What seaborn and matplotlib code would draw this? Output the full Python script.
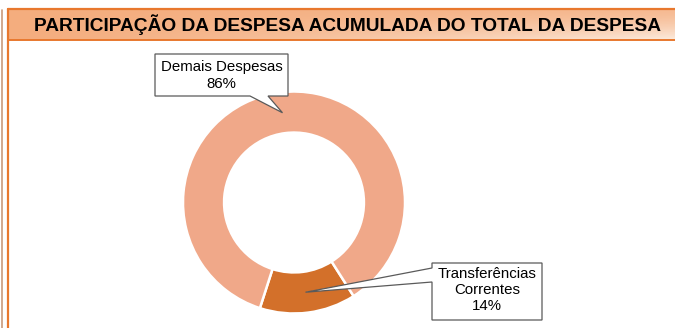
import textwrap
import numpy as np
import matplotlib
matplotlib.use("Agg")
import matplotlib.pyplot as plt
import seaborn as sns
from matplotlib.colors import to_rgb
from matplotlib.patches import Polygon

# dados
categorias = ["Transferências Correntes", "Demais Despesas"]
percentuais = [14, 86]
cores = ["#D3702A", "#F0A889"]
titulo = "PARTICIPAÇÃO DA DESPESA ACUMULADA DO TOTAL DA DESPESA"

sns.set_style("white")
plt.rcParams["font.family"] = ["Liberation Sans", "DejaVu Sans"]

W, H = 675, 328
fig = plt.figure(figsize=(W / 100, H / 100), dpi=100)
fig.patch.set_facecolor("white")

# fundo em pixels
bg = fig.add_axes([0, 0, 1, 1])
bg.set_xlim(0, W)
bg.set_ylim(H, 0)
bg.axis("off")

# faixa do titulo com degrade
nx, ny = 200, 20
gx = np.linspace(0, 1, nx)[None, :, None]
gy = np.linspace(0, 1, ny)[:, None, None]
c_esq = np.array(to_rgb("#F4AD7E"))
c_dir_topo = np.array(to_rgb("#F6BA92"))
c_dir_base = np.array(to_rgb("#FCEADC"))
c_dir = c_dir_topo + (c_dir_base - c_dir_topo) * gy ** 1.5
grad = c_esq + (c_dir - c_esq) * gx ** 1.3
bg.imshow(grad, extent=[7.5, W, 40, 8.5], aspect="auto", zorder=0)
bg.plot([7.5, W], [8.5, 8.5], color="#E8782E", lw=1.6, zorder=1)
bg.plot([7.5, W], [40, 40], color="#E8782E", lw=1.4, zorder=1)
bg.plot([7.5, 7.5], [8.5, H], color="#E8782E", lw=1.6, zorder=1)
bg.plot([1.5, 1.5], [10, H], color="#C99A7A", lw=1.2, zorder=1)
bg.text(348, 25, titulo, ha="center", va="center", fontsize=13.8,
        fontweight="bold", color="black", zorder=2)

# rosca
cx, cy, r = 294, 202.5, 111
ax = fig.add_axes([(cx - r) / W, (H - cy - r) / H, 2 * r / W, 2 * r / H])
largura = 0.37
wedges, _ = ax.pie(percentuais, colors=cores, startangle=-57.5, counterclock=False,
                   radius=1, wedgeprops=dict(width=largura, edgecolor="white", linewidth=1.8))
ax.set_xlim(-1, 1)
ax.set_ylim(-1, 1)
ax.set_aspect("equal")
ax.axis("off")

# camada dos baloes, por cima da rosca
top = fig.add_axes([0, 0, 1, 1])
top.set_xlim(0, W)
top.set_ylim(H, 0)
top.axis("off")
top.patch.set_alpha(0)


def ponta(w):
    ang = np.deg2rad((w.theta1 + w.theta2) / 2)
    rr = 1 - largura / 2
    px = ax.transData.transform((rr * np.cos(ang), rr * np.sin(ang)))
    return top.transData.inverted().transform(px)


t_tr = ponta(wedges[0])
t_dm = ponta(wedges[1])

caixa_dm = [(155, 54), (288, 54), (288, 96), (268, 96), tuple(t_dm), (250, 96), (155, 96)]
caixa_tr = [(432, 263), (542, 263), (542, 320), (432, 320), (432, 282), tuple(t_tr), (432, 268)]
for pts in (caixa_dm, caixa_tr):
    top.add_patch(Polygon(pts, closed=True, facecolor="white", edgecolor="#5A5A5A",
                          linewidth=0.9, zorder=5))

for cat, pct, (x, y) in zip(categorias, percentuais, [(487, 290), (221.5, 75.5)]):
    txt = textwrap.fill(cat, 15) + f"\n{pct}%"
    top.text(x, y, txt, ha="center", va="center", fontsize=10.8, linespacing=1.2,
             color="black", zorder=6)

fig.savefig("out.png", dpi=100)
